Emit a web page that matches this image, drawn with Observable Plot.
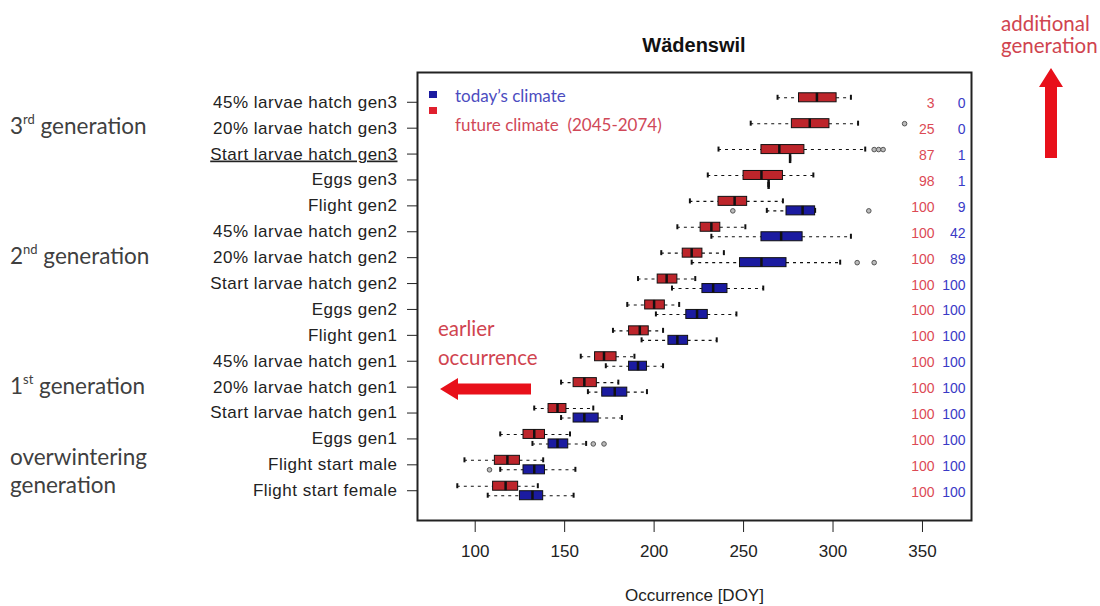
<!DOCTYPE html>
<html><head><meta charset="utf-8">
<script src="https://cdn.jsdelivr.net/npm/d3@7"></script>
<script src="https://cdn.jsdelivr.net/npm/@observablehq/plot@0.6"></script>
<style>
html,body{margin:0;padding:0;background:#fff;}
#wrap{position:relative;width:1100px;height:606px;overflow:hidden;}
#wrap svg{display:block;}
#overlay{position:absolute;left:0;top:0;pointer-events:none;}
</style></head><body><div id="wrap"></div>
<script>
// ---------- data ----------
const categories = [
  "45% larvae hatch gen3","20% larvae hatch gen3","Start larvae hatch gen3","Eggs gen3",
  "Flight gen2","45% larvae hatch gen2","20% larvae hatch gen2","Start larvae hatch gen2",
  "Eggs gen2","Flight gen1","45% larvae hatch gen1","20% larvae hatch gen1",
  "Start larvae hatch gen1","Eggs gen1","Flight start male","Flight start female"
];
// future climate (2045-2074), red
const futureLow = [269,254,236,230,220,213,204,191,185,177,159,148,133,114,94,90];
const futureQ1  = [281,277,260,250,236,226,216,202,195,186,167,155,141,127,111,110];
const futureMed = [291,287,270,260,245,232,221,207,200,192,172,161,146,133,118,117];
const futureQ3  = [302,298,284,272,252,237,227,213,206,197,179,168,151,139,125,124];
const futureHigh= [310,314,318,289,272,251,239,223,214,205,189,180,166,153,138,135];
const futureOutlierCat = ["20% larvae hatch gen3","Start larvae hatch gen3","Start larvae hatch gen3","Start larvae hatch gen3"];
const futureOutlierVal = [340,323,325.5,328];
// today's climate, blue (null = no occurrence)
const todayLow  = [null,null,276,264,263,232,221,210,201,193,173,163,148,132,114,107];
const todayQ1   = [null,null,276,264,274,260,248,227,218,208,186,171,155,141,127,125];
const todayMed  = [null,null,276,264,283,271,260,233,224,213,191,178,161,146,133,132];
const todayQ3   = [null,null,276,264,290,283,274,241,230,219,196,185,169,152,139,138];
const todayHigh = [null,null,276,264,290,310,304,261,246,235,205,196,182,162,156,155];
const todayOutlierCat = ["Flight gen2","Flight gen2","20% larvae hatch gen2","20% larvae hatch gen2","Eggs gen1","Eggs gen1","Flight start male"];
const todayOutlierVal = [244,320,313.5,323,166,172,108];
// percentage of years in which the stage is reached
const futureCount = [3,25,87,98,100,100,100,100,100,100,100,100,100,100,100,100];
const todayCount  = [0,0,1,1,9,42,89,100,100,100,100,100,100,100,100,100];
const xTicks = [100,150,200,250,300,350];

// ---------- build tables ----------
const future = categories.map((c,i)=>({cat:c, lo:futureLow[i], q1:futureQ1[i], med:futureMed[i], q3:futureQ3[i], hi:futureHigh[i]}));
const today = categories.map((c,i)=>({cat:c, lo:todayLow[i], q1:todayQ1[i], med:todayMed[i], q3:todayQ3[i], hi:todayHigh[i]})).filter(d=>d.med!=null);
const futureOut = futureOutlierCat.map((c,i)=>({cat:c, v:futureOutlierVal[i]}));
const todayOut = todayOutlierCat.map((c,i)=>({cat:c, v:todayOutlierVal[i]}));

// ---------- layout ----------
const W=1100, H=606, mt=72, mb=86, ml=417, mr=129, padOuter=0.65;
const bw = (H-mt-mb)/(categories.length + 2*padOuter);
const BOX_H = 9, STAPLE_H = 5;
const boxInset = (bw-BOX_H)/2, stapleInset = (bw-STAPLE_H)/2;
const RED = "#bd252b", BLUE = "#1b1ba0";

function series(data, outs, dy, fill){
  return [
    Plot.ruleY(data, {y:"cat", x1:"lo", x2:"q1", dy, stroke:"#111", strokeWidth:1.1, strokeDasharray:"3,4"}),
    Plot.ruleY(data, {y:"cat", x1:"q3", x2:"hi", dy, stroke:"#111", strokeWidth:1.1, strokeDasharray:"3,4"}),
    Plot.tickX(data, {y:"cat", x:"lo", dy, insetTop:stapleInset, insetBottom:stapleInset, stroke:"#111", strokeWidth:2}),
    Plot.tickX(data, {y:"cat", x:"hi", dy, insetTop:stapleInset, insetBottom:stapleInset, stroke:"#111", strokeWidth:2}),
    Plot.barX(data, {y:"cat", x1:"q1", x2:"q3", dy, insetTop:boxInset, insetBottom:boxInset, fill, stroke:"#111", strokeWidth:1}),
    Plot.tickX(data, {y:"cat", x:"med", dy, insetTop:boxInset, insetBottom:boxInset, stroke:"#111", strokeWidth:2.5}),
    Plot.dot(outs, {y:"cat", x:"v", dy, r:2.3, stroke:"#555", fill:"#bbb", strokeWidth:1})
  ];
}

const chart = Plot.plot({
  width:W, height:H, marginTop:mt, marginBottom:mb, marginLeft:ml, marginRight:mr,
  style:{fontFamily:'"Liberation Sans", Arial, sans-serif', fontSize:"17px", color:"#222", background:"white"},
  x:{domain:[67.75,377.4]},
  y:{type:"band", domain:categories, paddingInner:0, paddingOuter:padOuter, round:false},
  marks:[
    ...series(future, futureOut, -4.5, RED),
    ...series(today, todayOut, 5, BLUE),
    Plot.text(categories, {y:d=>d, text:(d,i)=>String(futureCount[i]), frameAnchor:"right", dx:-37, dy:1.5, textAnchor:"end", fill:"#dc4a55", fontSize:14}),
    Plot.text(categories, {y:d=>d, text:(d,i)=>String(todayCount[i]), frameAnchor:"right", dx:-6, dy:1.5, textAnchor:"end", fill:"#3a3ac6", fontSize:14}),
    Plot.frame({stroke:"#222", strokeWidth:2}),
    Plot.axisY({tickSize:10, tickPadding:10, fontSize:17, label:null}),
    Plot.axisX({ticks:xTicks, tickSize:12, tickPadding:12, fontSize:17, label:"Occurrence [DOY]", labelAnchor:"center", labelOffset:80, labelArrow:"none"})
  ]
});
const wrap = document.getElementById("wrap");
wrap.appendChild(chart);

// y tick labels: slightly wider spacing, underline separator label
d3.select(chart).selectAll('g[aria-label="y-axis tick label"] text').style("letter-spacing","0.5px");
d3.select(chart).selectAll("text").filter(function(){return this.textContent==="Start larvae hatch gen3";})
  .style("text-decoration","underline");

// ---------- annotations overlay ----------
const ys = chart.scale("y");
const yc = c => ys.apply(c) + ys.bandwidth/2;
const ov = d3.select(wrap).append("svg").attr("id","overlay").attr("width",W).attr("height",H);
ov.append("text").attr("x",694).attr("y",52).attr("text-anchor","middle")
  .attr("font-family",'"Liberation Sans", Arial, sans-serif').attr("font-weight","bold").attr("font-size",20).attr("fill","#111").text("Wädenswil");

const genFont = 'Lato, "Open Sans", sans-serif';
const GEN_SIZE = 22.5;
const genLabels = [
  {cat:"20% larvae hatch gen3", dy:6, num:"3", sup:"rd", rest:" generation"},
  {cat:"20% larvae hatch gen2", dy:7, num:"2", sup:"nd", rest:" generation"},
  {cat:"20% larvae hatch gen1", dy:7.5, num:"1", sup:"st", rest:" generation"}
];
genLabels.forEach(g=>{
  const t = ov.append("text").attr("x",10).attr("y",yc(g.cat)+g.dy).attr("font-family",genFont).attr("font-size",GEN_SIZE).attr("fill","#404040");
  t.append("tspan").text(g.num);
  t.append("tspan").attr("font-size",13).attr("dy",-10).text(g.sup);
  t.append("tspan").attr("dy",10).text(g.rest);
});
ov.append("text").attr("x",10).attr("y",yc("Flight start male")+1).attr("font-family",genFont).attr("font-size",GEN_SIZE).attr("fill","#404040").text("overwintering");
ov.append("text").attr("x",10).attr("y",yc("Flight start female")+3).attr("font-family",genFont).attr("font-size",GEN_SIZE).attr("fill","#404040").text("generation");

// legend
ov.append("rect").attr("x",429).attr("y",91).attr("width",8).attr("height",7).attr("fill",BLUE);
ov.append("rect").attr("x",429).attr("y",107).attr("width",8).attr("height",7).attr("fill","#e0202e");
ov.append("text").attr("x",455).attr("y",102).attr("font-family",genFont).attr("font-size",17).attr("fill","#4c4cc0").text("today’s climate");
ov.append("text").attr("x",455).attr("y",131).attr("font-family",genFont).attr("font-size",17).attr("fill","#d04858").style("white-space","pre").text("future climate  (2045-2074)");

// earlier occurrence
const annRed = "#d0444f", arrowRed = "#e8101a";
ov.append("text").attr("x",438).attr("y",336).attr("font-family",genFont).attr("font-size",20.5).attr("fill",annRed).text("earlier");
ov.append("text").attr("x",438).attr("y",365).attr("font-family",genFont).attr("font-size",20.5).attr("fill",annRed).text("occurrence");
ov.append("polygon").attr("points","440,389 458,378 458,383.5 531,383.5 531,394.5 458,394.5 458,400").attr("fill",arrowRed);

// additional generation
ov.append("text").attr("x",1001).attr("y",31).attr("font-family",genFont).attr("font-size",20.5).attr("fill",annRed).text("additional");
ov.append("text").attr("x",1001).attr("y",53).attr("font-family",genFont).attr("font-size",20.5).attr("fill",annRed).text("generation");
ov.append("polygon").attr("points","1051,68 1063,87 1057,87 1057,158 1045,158 1045,87 1039,87").attr("fill",arrowRed);
</script></body></html>
